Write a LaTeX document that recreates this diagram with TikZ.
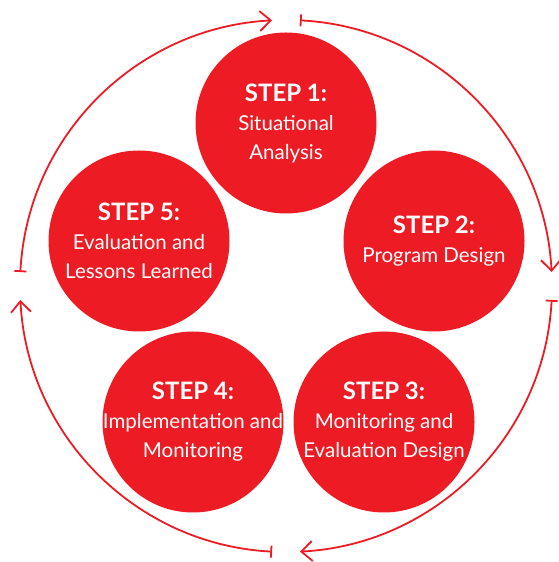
\documentclass[tikz,border=0pt]{standalone}
\usepackage{fontspec}
\setmainfont{Lato}
\usetikzlibrary{arrows.meta}
\definecolor{stepred}{RGB}{237,28,36}
\newcommand{\steplabel}[1]{{\fontsize{24}{29}\selectfont\bfseries #1}}
\begin{document}
\begin{tikzpicture}[x=1pt,y=1pt,
  stepnode/.style={circle,fill=stepred,text=white,minimum size=181pt,inner sep=-30pt,
    align=center,font=\fontsize{20.5}{29}\selectfont},
  cycle/.style={stepred,line width=1.8pt,{Bar[width=12pt]}-{Straight Barb[length=11pt,width=20pt]}}]
  \useasboundingbox (0,0) rectangle (558,562);
  \coordinate (c) at (286,276);
  \node[stepnode] (s1) at (286,439) {\steplabel{STEP 1:}\\Situational\\Analysis};
  \node[stepnode] (s2) at (434,321) {\steplabel{STEP 2:}\\Program Design};
  \node[stepnode] (s3) at (384,140) {\steplabel{STEP 3:}\\Monitoring and\\Evaluation Design};
  \node[stepnode] (s4) at (193,140) {\steplabel{STEP 4:}\\Implementation and\\Monitoring};
  \node[stepnode] (s5) at (139,321) {\steplabel{STEP 5:}\\Evaluation and\\Lessons Learned};

  % outer cycle, one arc per quarter
  \foreach \a in {0,90,180,270}
    \draw[cycle] ([shift={(87-\a:266)}]c) arc (87-\a:3-\a:266);
\end{tikzpicture}
\end{document}
